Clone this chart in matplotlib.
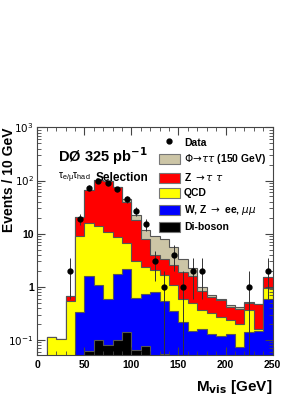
import matplotlib.pyplot as plt
import numpy as np
from matplotlib.patches import Patch
from matplotlib.lines import Line2D
from matplotlib.ticker import FixedLocator, FuncFormatter, LogLocator, MultipleLocator

plt.rcParams['font.family'] = ['Liberation Sans', 'DejaVu Sans']
plt.rcParams['mathtext.fontset'] = 'dejavusans'

# bin edges, 10 GeV bins
edges = np.arange(0, 251, 10)

# stacked (cumulative) heights per bin
diboson = [0, 0, 0, 0, 0, 0.062, 0.10, 0.08, 0.10, 0.143, 0.066, 0.077, 0,
           0.055, 0, 0, 0, 0, 0, 0, 0, 0, 0, 0, 0]
wz_ll = [0, 0, 0, 0, 0.335, 1.63, 1.07, 0.58, 1.73, 2.15, 0.62, 0.72, 0.8,
         0.55, 0.35, 0.22, 0.15, 0.16, 0.13, 0.12, 0.13, 0.075, 0.143, 0.15, 0.6]
qcd = [0, 0.112, 0.103, 0.55, 9.0, 15.6, 13.8, 10.8, 8.5, 6.8, 3.0, 2.4, 2.1,
       1.7, 1.1, 0.6, 0.49, 0.37, 0.32, 0.27, 0.24, 0.2, 0.36, 0.16, 0.93]
ztautau = [0, 0.112, 0.103, 0.67, 20.6, 67.5, 102, 98, 74, 40, 17.8, 8.1, 3.9,
           3.3, 2.6, 1.9, 1.6, 0.84, 0.65, 0.56, 0.42, 0.38, 0.5, 0.47, 1.54]
phi = [0, 0.112, 0.103, 0.67, 20.6, 67.5, 102, 98, 74, 44, 22.3, 11.6, 9.0,
       7.8, 5.5, 3.3, 2.3, 1.0, 0.7, 0.6, 0.45, 0.42, 0.52, 0.48, 1.54]

# observed events
data_x = [35, 45, 55, 65, 75, 85, 95, 105, 115, 125, 135, 145, 155, 165, 175, 225, 245]
data_n = [2, 19, 73, 100, 90, 68, 45, 27, 15, 3, 1, 4, 1, 2, 2, 1, 2]

ymin, ymax = 0.052, 1000

fig = plt.figure(figsize=(3.08, 3.98), dpi=100)
ax = fig.add_axes([0.121, 0.108, 0.764, 0.572])

layers = [
    (phi, '#CCC5A6', r'$\Phi\!\rightarrow\!\tau\tau$ (150 GeV)'),
    (ztautau, '#FF0000', r'Z $\rightarrow\tau\;\tau$'),
    (qcd, '#FFFF00', 'QCD'),
    (wz_ll, '#0000FF', r'W, Z $\rightarrow$ ee, $\mu\mu$'),
    (diboson, '#000000', 'Di-boson'),
]
base = 1e-4
for vals, col, lab in layers:
    v = np.where(np.array(vals) > 0, vals, base)
    ax.stairs(v, edges, baseline=base, fill=True, facecolor=col,
              edgecolor='#555555', linewidth=0.8)

n = np.array(data_n, dtype=float)
err = np.sqrt(n)
lo = n - np.maximum(n - err, 1e-3)
ax.errorbar(data_x, n, yerr=[lo, err], fmt='o', color='black', ms=3.5,
            ecolor='#333333', elinewidth=0.7, capsize=0, zorder=5)

ax.set_yscale('log')
ax.set_xlim(0, 250)
ax.set_ylim(ymin, ymax)

ax.xaxis.set_major_locator(MultipleLocator(50))
ax.xaxis.set_minor_locator(MultipleLocator(10))
ax.yaxis.set_major_locator(FixedLocator([0.1, 1, 10, 100, 1000]))
ax.yaxis.set_minor_locator(LogLocator(base=10, subs=np.arange(2, 10)))
ylabels = {0.1: r'$10^{-1}$', 1: '1', 10: '10', 100: r'$10^{2}$', 1000: r'$10^{3}$'}
ax.yaxis.set_major_formatter(FuncFormatter(lambda v, p: ylabels.get(round(v, 3), '')))
ax.yaxis.set_minor_formatter(FuncFormatter(lambda v, p: ''))
ax.tick_params(which='both', direction='in', top=True, right=True,
               labelsize=7.5, colors='#444444', labelcolor='black')
ax.tick_params(which='major', length=6, width=0.8)
ax.tick_params(which='minor', length=3, width=0.6)
ax.tick_params(axis='y', which='major', pad=2.5)
for t in ax.get_xticklabels() + ax.get_yticklabels():
    t.set_fontweight('bold')
for s in ax.spines.values():
    s.set_color('#444444')
    s.set_linewidth(0.8)

ax.set_ylabel('Events / 10 GeV', fontsize=10, fontweight='bold', loc='top')
ax.yaxis.set_label_coords(-0.09, 1.0)
ax.set_xlabel(r'M$_{\mathbf{vis}}$ [GeV]', fontsize=11, fontweight='bold',
              loc='right', labelpad=6)

ax.text(0.09, 0.875, r'DØ 325 pb$^{\mathbf{-1}}$', transform=ax.transAxes,
        fontsize=10.5, fontweight='bold', va='center')
ax.text(0.09, 0.778, r'$\mathregular{\tau_{e/\mu}\tau_{had}}$', transform=ax.transAxes,
        fontsize=7.5, va='center')
ax.text(0.25, 0.778, 'Selection', transform=ax.transAxes,
        fontsize=8.5, fontweight='bold', va='center')

handles = [Line2D([], [], marker='o', color='black', ls='none', ms=3.5)]
labels = ['Data']
for vals, col, lab in layers:
    handles.append(Patch(facecolor=col, edgecolor='#777777', linewidth=0.8))
    labels.append(lab)
ax.legend(handles, labels, loc='upper right', bbox_to_anchor=(0.99, 0.975),
          frameon=False, prop={'weight': 'bold', 'size': 7.5},
          handlelength=2.0, handleheight=1.1, handletextpad=0.4,
          labelspacing=0.45, borderaxespad=0.2, borderpad=0.2)

fig.savefig('out.png', dpi=100)
